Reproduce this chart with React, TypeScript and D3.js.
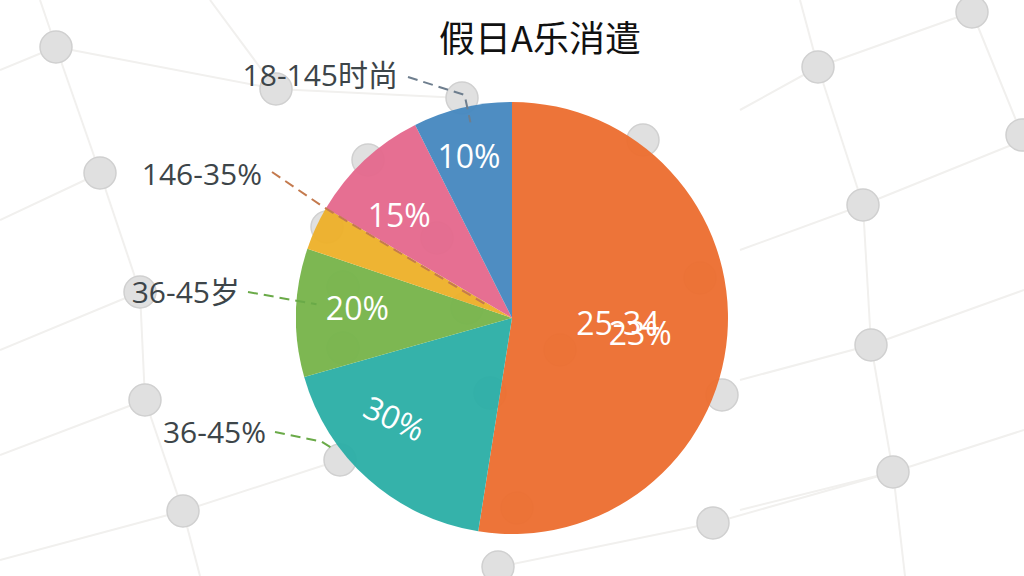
import { useMemo } from 'react';
import * as d3 from 'd3';

// slice shares (clockwise from 12 o'clock)
const groups = ['25-34', '36-45%', '36-45岁', '146-35%', '15%', '18-145时尚'];
const shares = [52.5, 18.1, 9.6, 3.3, 9.1, 7.4];
const innerLabels = ['23%', '30%', '20%', '', '15%', '10%'];
const colors = ['#ED6F31', '#2DAFA7', '#78B54C', '#EEB12B', '#E56A8E', '#4789C0'];

const W = 1024;
const H = 576;
const cx = 512;
const cy = 318;
const R = 216;

// background mesh
const nodes: [number, number][] = [
  [56, 47], [276, 89], [100, 173], [140, 292], [145, 400], [183, 511],
  [340, 460], [498, 567], [713, 523], [818, 67], [863, 205], [871, 345],
  [893, 472], [972, 12], [1022, 135], [722, 395], [462, 98],
  [327, 227], [368, 160], [437, 238], [343, 348], [343, 287], [467, 308],
  [490, 393], [700, 278], [560, 350], [517, 508], [643, 140],
];
const meshLines: [number, number, number, number][] = [
  [40, 0, 56, 47], [56, 47, 100, 173], [100, 173, 140, 292], [140, 292, 145, 400],
  [145, 400, 183, 511], [183, 511, 200, 576], [800, 0, 818, 67], [818, 67, 863, 205],
  [863, 205, 871, 345], [871, 345, 893, 472], [893, 472, 905, 576], [945, -20, 972, 12],
  [972, 12, 1022, 135], [0, 70, 56, 47], [56, 47, 276, 89], [0, 220, 100, 173],
  [0, 350, 140, 292], [0, 455, 145, 400], [0, 560, 183, 511], [183, 511, 340, 460],
  [740, 110, 818, 67], [818, 67, 972, 12], [740, 250, 863, 205], [863, 205, 1024, 140],
  [740, 380, 871, 345], [871, 345, 1024, 290], [740, 510, 893, 472], [893, 472, 1024, 430],
  [498, 567, 713, 523], [713, 523, 893, 472], [276, 89, 462, 98], [210, 0, 276, 89],
];

const polar = (deg: number, r: number): [number, number] => {
  const a = (deg * Math.PI) / 180;
  return [cx + r * Math.sin(a), cy - r * Math.cos(a)];
};

// outside leaders: text anchor (end) + polyline points from polar coords
const outer = [
  { i: 5, tx: 398, ty: 86, from: [408, 77], pts: [[348, 228], [348, 200]], color: '#6E7E8E' },
  { i: 3, tx: 262, ty: 185, from: [272, 172], pts: [[300.5, 220], [296.5, 25]], color: '#C47A4E' },
  { i: 2, tx: 240, ty: 303, from: [248, 292], pts: [[274, 196]], color: '#6AAA48' },
  { i: 1, tx: 266, ty: 443, from: [275, 432], pts: [[237, 227], [234, 222]], color: '#6AAA48' },
];

// inner label placement (angle nudge, radius, rotation)
const innerPos = [
  { da: 2, r: 129, rot: 0 },
  { da: 8, r: 154, rot: 25 },
  { da: 2.5, r: 155, rot: 0 },
  { da: 0, r: 0, rot: 0 },
  { da: -4.5, r: 153, rot: 0 },
  { da: -1.5, r: 168, rot: 0 },
];

export default function App() {
  const arcs = useMemo(
    () =>
      d3
        .pie<number>()
        .sort(null)
        .value((d) => d)(shares),
    [],
  );
  const arcGen = d3.arc<d3.PieArcDatum<number>>().innerRadius(0).outerRadius(R);
  const mid = (k: number) => (((arcs[k].startAngle + arcs[k].endAngle) / 2) * 180) / Math.PI;
  const font = '"Open Sans", "Noto Sans CJK SC", sans-serif';

  return (
    <svg
      width={W}
      height={H}
      style={{ position: 'absolute', left: 0, top: 0, background: '#fff' }}
      fontFamily={font}
    >
      <g stroke="#f1f0ee" strokeWidth={2}>
        {meshLines.map((l, k) => (
          <line key={k} x1={l[0]} y1={l[1]} x2={l[2]} y2={l[3]} />
        ))}
      </g>
      <g>
        {nodes.map((n, k) => (
          <circle key={k} cx={n[0]} cy={n[1]} r={16} fill="#e0e0e0" stroke="#d0d0d0" strokeWidth={1.5} />
        ))}
      </g>

      <g transform={`translate(${cx},${cy})`} opacity={0.96}>
        {arcs.map((a, k) => (
          <path key={groups[k]} d={arcGen(a) ?? ''} fill={colors[k]} />
        ))}
      </g>

      {outer.map((o) => {
        const pts = [o.from, ...o.pts.map((p) => polar(p[0], p[1]))];
        return (
          <g key={o.i}>
            <path
              d={d3.line()(pts as [number, number][]) ?? ''}
              fill="none"
              stroke={o.color}
              strokeWidth={2}
              strokeDasharray="10 6"
            />
            <text x={o.tx} y={o.ty} textAnchor="end" fontSize={30} fill="#3d4549">
              {groups[o.i]}
            </text>
          </g>
        );
      })}

      {innerLabels.map((t, k) => {
        if (!t) return null;
        const p = innerPos[k];
        const [x, y] = polar(mid(k) + p.da, p.r);
        return (
          <text
            key={k}
            x={x}
            y={y}
            transform={`rotate(${p.rot},${x},${y})`}
            textAnchor="middle"
            dominantBaseline="central"
            fontSize={32}
            fill="#fff"
          >
            {t}
          </text>
        );
      })}
      {(() => {
        const [x, y] = polar(mid(0) - 2, 106);
        return (
          <text x={x} y={y} textAnchor="middle" dominantBaseline="central" fontSize={32} fill="#fff">
            {groups[0]}
          </text>
        );
      })()}

      <text x={540} y={52} textAnchor="middle" fontSize={36} fill="#111" fontFamily='"Noto Sans CJK SC", sans-serif'>
        假日A乐消遣
      </text>
    </svg>
  );
}
